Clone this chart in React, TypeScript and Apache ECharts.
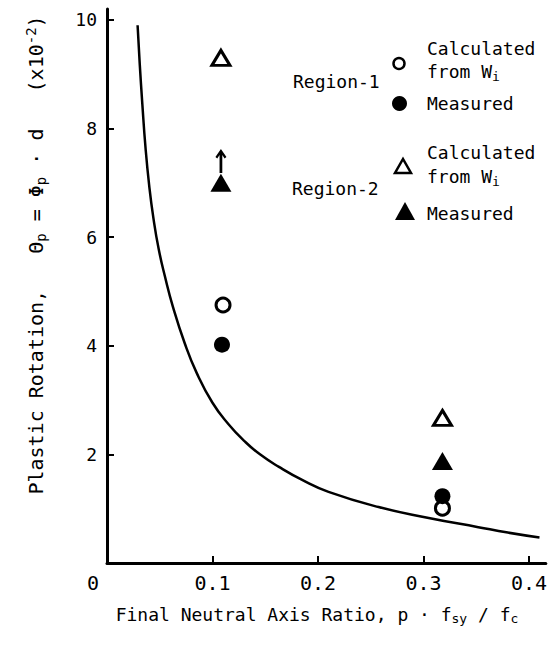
import React, { useEffect, useRef } from "react";
import * as echarts from "echarts";

const FONT = '"DejaVu Sans Mono", "Liberation Mono", monospace';

// axis ticks
const xTicks = [0.1, 0.2, 0.3, 0.4];
const xLabels = [0, 0.1, 0.2, 0.3, 0.4];
const yTicks = [2, 4, 6, 8, 10];

// theoretical curve (x, theta_p x10^-2)
const curve: number[][] = [
  [0.029, 9.9], [0.031, 9.2], [0.0335, 8.45], [0.0365, 7.65], [0.04, 6.95],
  [0.044, 6.35], [0.049, 5.78], [0.055, 5.27], [0.0623, 4.73], [0.0736, 4.05],
  [0.085, 3.5], [0.1, 2.95], [0.115, 2.56], [0.13, 2.25], [0.145, 2.0],
  [0.163, 1.77], [0.185, 1.53], [0.21, 1.31], [0.2575, 1.03], [0.305, 0.83],
  [0.352, 0.66], [0.38, 0.56], [0.41, 0.47],
];

// data points
const region1Calc: number[][] = [[0.11, 4.75], [0.318, 1.01]];
const region1Meas: number[][] = [[0.109, 4.02], [0.318, 1.23]];
const region2Calc: number[][] = [[0.108, 9.3], [0.318, 2.67]];
const region2Meas: number[][] = [[0.108, 7.0], [0.318, 1.88]];
const arrowMark: number[][] = [[0.108, 7.4]];

const mainRich = (size: number, lh: number) => ({
  m: { fontFamily: FONT, fontSize: size, lineHeight: lh, fill: "#000", color: "#000" },
  sub: { fontFamily: FONT, fontSize: Math.round(size * 0.72), lineHeight: 8, verticalAlign: "bottom", fill: "#000", color: "#000" },
  sup: { fontFamily: FONT, fontSize: Math.round(size * 0.72), lineHeight: 8, verticalAlign: "top", fill: "#000", color: "#000" },
});

export default function App() {
  const ref = useRef<HTMLDivElement>(null);
  useEffect(() => {
    document.body.style.margin = "0";
    if (!ref.current) return;
    const chart = echarts.init(ref.current, undefined, { renderer: "svg" });
    const black = "#000";
    const legendText = (x: number, y: number, text: string) => ({
      type: "text",
      x,
      y,
      style: {
        text,
        rich: mainRich(18, 23),
        fill: black,
        font: `18px ${FONT}`,
        textAlign: "left",
        align: "left",
        textVerticalAlign: "middle",
        verticalAlign: "middle",
      },
    });
    chart.setOption({
      animation: false,
      backgroundColor: "#fff",
      grid: { left: 107, right: 2, top: 9, bottom: 85 },
      xAxis: {
        type: "value",
        min: 0,
        max: 0.416,
        splitLine: { show: false },
        axisLine: { show: true, onZero: false, lineStyle: { color: black, width: 3 } },
        axisTick: { show: true, inside: true, length: 7, lineStyle: { color: black, width: 2 }, customValues: xTicks },
        axisLabel: {
          customValues: xLabels,
          color: black,
          fontFamily: FONT,
          fontSize: 20,
          margin: 10,
          formatter: (v: number) => (v === 0 ? "{o|0}" : (Math.round(v * 10) / 10).toFixed(1)),
          rich: { o: { fontFamily: FONT, fontSize: 20, color: black, padding: [0, 28, 0, 0] } },
        },
      },
      yAxis: {
        type: "value",
        min: 0,
        max: 10.2,
        splitLine: { show: false },
        axisLine: { show: true, onZero: false, lineStyle: { color: black, width: 3 } },
        axisTick: { show: true, inside: true, length: 7, lineStyle: { color: black, width: 2 }, customValues: yTicks },
        axisLabel: { customValues: yTicks, color: black, fontFamily: FONT, fontSize: 18, margin: 10 },
      },
      series: [
        {
          type: "line",
          data: curve,
          smooth: 0.5,
          showSymbol: false,
          symbol: "none",
          lineStyle: { color: black, width: 2.5 },
          z: 2,
        },
        {
          type: "scatter",
          name: "Region-1 Calculated",
          data: region1Calc,
          symbol: "circle",
          symbolSize: 14,
          itemStyle: { color: "#fff", borderColor: black, borderWidth: 3, opacity: 1 },
          z: 3,
        },
        {
          type: "scatter",
          name: "Region-1 Measured",
          data: region1Meas,
          symbol: "circle",
          symbolSize: 16,
          itemStyle: { color: black, opacity: 1 },
          z: 4,
        },
        {
          type: "scatter",
          name: "Region-2 Calculated",
          data: region2Calc,
          symbol: "triangle",
          symbolSize: [18, 15],
          itemStyle: { color: "#fff", borderColor: black, borderWidth: 3, opacity: 1 },
          z: 3,
        },
        {
          type: "scatter",
          name: "Region-2 Measured",
          data: region2Meas,
          symbol: "triangle",
          symbolSize: [21, 18],
          itemStyle: { color: black, opacity: 1 },
          z: 3,
        },
        {
          type: "scatter",
          name: "arrow",
          data: arrowMark,
          symbol: "path://M6,0 L12,8 L10,9.5 L7.5,6 L7.5,24 L4.5,24 L4.5,6 L2,9.5 L0,8 Z",
          symbolSize: [11, 24],
          itemStyle: { color: black, opacity: 1 },
          z: 3,
        },
      ],
      graphic: [
        // y-axis title
        {
          type: "text",
          x: 36,
          y: 255,
          rotation: Math.PI / 2,
          style: {
            text: "{m|Plastic Rotation,   \u0398}{sub|p}{m| = \u03A6}{sub|p}{m| \u00B7 d   (x10}{sup|-2}{m|)}",
            rich: mainRich(20, 24),
            fill: black,
            font: `20px ${FONT}`,
            textAlign: "center",
            align: "center",
            textVerticalAlign: "middle",
            verticalAlign: "middle",
          },
        },
        // x-axis title
        {
          type: "text",
          x: 317,
          y: 614,
          style: {
            text: "{m|Final Neutral Axis Ratio, p \u00B7 f}{sub|sy}{m| / f}{sub|c}",
            rich: mainRich(18, 22),
            fill: black,
            font: `18px ${FONT}`,
            textAlign: "center",
            align: "center",
            textVerticalAlign: "middle",
            verticalAlign: "middle",
          },
        },
        // legend
        { type: "text", x: 293, y: 81, style: { text: "Region-1", fill: black, font: `18px ${FONT}`, textVerticalAlign: "middle", verticalAlign: "middle" } },
        { type: "text", x: 292, y: 188, style: { text: "Region-2", fill: black, font: `18px ${FONT}`, textVerticalAlign: "middle", verticalAlign: "middle" } },
        legendText(427, 48, "{m|Calculated}"),
        legendText(427, 71, "{m|from W}{sub|i}"),
        legendText(427, 103, "{m|Measured}"),
        legendText(427, 152, "{m|Calculated}"),
        legendText(427, 176, "{m|from W}{sub|i}"),
        legendText(427, 213, "{m|Measured}"),
        { type: "circle", shape: { cx: 399, cy: 63.5, r: 5.5 }, style: { fill: "#fff", stroke: black, lineWidth: 2.5 } },
        { type: "circle", shape: { cx: 399.5, cy: 103.5, r: 7.5 }, style: { fill: black } },
        { type: "polygon", shape: { points: [[395, 173], [411, 173], [403, 159]] }, style: { fill: "#fff", stroke: black, lineWidth: 2.5 } },
        { type: "polygon", shape: { points: [[395, 220], [415, 220], [405, 202]] }, style: { fill: black } },
      ],
    });
    return () => chart.dispose();
  }, []);
  return <div ref={ref} style={{ width: 550, height: 648 }} />;
}
